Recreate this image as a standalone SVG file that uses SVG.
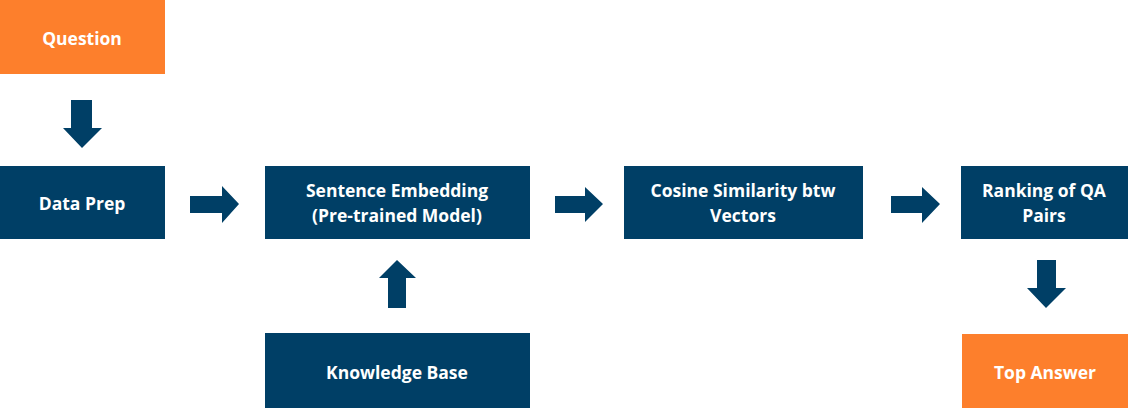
<svg xmlns="http://www.w3.org/2000/svg" width="1128" height="408" viewBox="0 0 1128 408">
<style>
.navy{fill:#003F66}
.orange{fill:#FD7F2C}
.arrow{fill:#003F66}
text{font-family:"Open Sans","Liberation Sans",sans-serif;font-weight:bold;font-size:17.5px;fill:#fff;text-anchor:middle;dominant-baseline:central}
</style>
<rect width="1128" height="408" fill="#fff"/>
<g id="question"><rect class="orange" x="0" y="0" width="165" height="74"/><text x="82" y="38">Question</text></g>
<g id="dataprep"><rect class="navy" x="0" y="166" width="165" height="73"/><text x="82" y="203">Data Prep</text></g>
<g id="embedding"><rect class="navy" x="265" y="166" width="265" height="73"/><text x="397" y="190">Sentence Embedding</text><text x="397" y="215">(Pre-trained Model)</text></g>
<g id="cosine"><rect class="navy" x="624" y="166" width="239" height="73"/><text x="743" y="190">Cosine Similarity btw</text><text x="743" y="215">Vectors</text></g>
<g id="ranking"><rect class="navy" x="961" y="166" width="167" height="73"/><text x="1044" y="190">Ranking of QA</text><text x="1044" y="215">Pairs</text></g>
<g id="knowledge"><rect class="navy" x="265" y="333" width="265" height="75"/><text x="397" y="372">Knowledge Base</text></g>
<g id="answer"><rect class="orange" x="962" y="334" width="166" height="74"/><text x="1045" y="372">Top Answer</text></g>
<g id="connectors">
<polygon class="arrow" points="71,100 92,100 92,128 102,128 82,148 63,128 71,128"/>
<polygon class="arrow" points="190,196 222,196 222,186 239,204 222,223 222,213 190,213"/>
<polygon class="arrow" points="555,196 585,196 585,187 603,204 585,222 585,213 555,213"/>
<polygon class="arrow" points="891,196 922,196 922,187 940,204 922,223 922,213 891,213"/>
<polygon class="arrow" points="1037,260 1056,260 1056,288 1066,288 1046,308 1027,288 1037,288"/>
<polygon class="arrow" points="388,308 406,308 406,278 416,278 397,260 379,278 388,278"/>
</g>
</svg>
